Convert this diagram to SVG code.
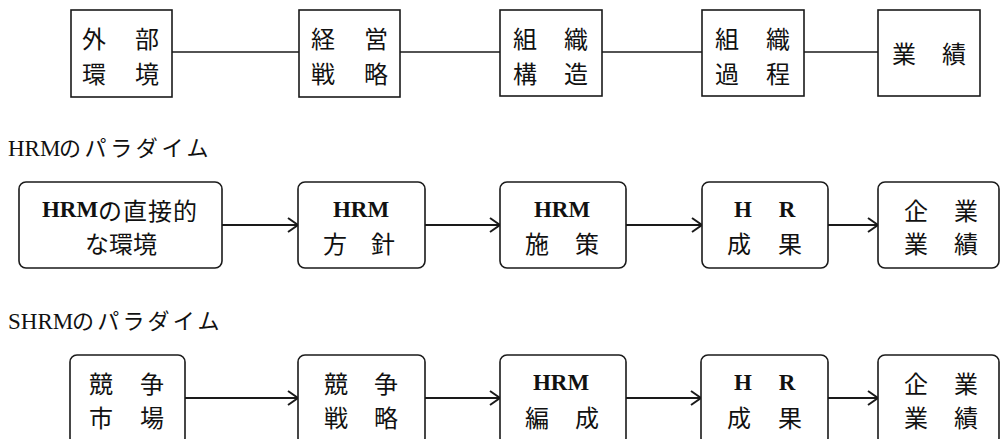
<svg xmlns="http://www.w3.org/2000/svg" width="1001" height="439" viewBox="0 0 1001 439">
<style>
.box{fill:#fff;stroke:#1a1a1a;stroke-width:1.6}
.cn{stroke:#1a1a1a;stroke-width:1.6;fill:none}
.ar{stroke:#1a1a1a;stroke-width:2;fill:none}
.t{font-family:"Noto Sans CJK JP","Liberation Serif",sans-serif;font-size:24px;fill:#111;text-anchor:middle;dominant-baseline:central}
.l{font-family:"Liberation Serif",serif;font-weight:bold;font-size:23px}
.ti{font-family:"Liberation Serif","Noto Sans CJK JP",serif;font-size:23px;fill:#111}
.kj{font-family:"Noto Sans CJK JP",sans-serif;font-size:22px}
</style>
<defs>
<marker id="ah" markerUnits="userSpaceOnUse" markerWidth="14" markerHeight="18" refX="11" refY="8" orient="auto" viewBox="0 0 14 18">
<path d="M1,1 L11,8 L1,15" fill="none" stroke="#1a1a1a" stroke-width="2"/>
</marker>
</defs>
<rect width="1001" height="439" fill="#fff"/>

<g id="connectors">
<line class="cn" x1="172" y1="52" x2="299" y2="52"/>
<line class="cn" x1="400" y1="52" x2="500" y2="52"/>
<line class="cn" x1="602" y1="52" x2="702" y2="52"/>
<line class="cn" x1="804" y1="52" x2="878" y2="52"/>
<line class="ar" x1="222" y1="225" x2="298" y2="225" marker-end="url(#ah)"/>
<line class="ar" x1="425" y1="225" x2="500" y2="225" marker-end="url(#ah)"/>
<line class="ar" x1="626" y1="225" x2="702" y2="225" marker-end="url(#ah)"/>
<line class="ar" x1="828" y1="225" x2="878" y2="225" marker-end="url(#ah)"/>
<line class="ar" x1="185" y1="398" x2="298" y2="398" marker-end="url(#ah)"/>
<line class="ar" x1="425" y1="398" x2="500" y2="398" marker-end="url(#ah)"/>
<line class="ar" x1="626" y1="398" x2="701" y2="398" marker-end="url(#ah)"/>
<line class="ar" x1="828" y1="398" x2="878" y2="398" marker-end="url(#ah)"/>
</g>

<!-- Row 1 -->
<g id="n1">
<rect class="box" x="71" y="10" width="101" height="87"/>
<text class="t" y="37"><tspan x="94">外</tspan><tspan x="147">部</tspan></text>
<text class="t" y="72"><tspan x="94">環</tspan><tspan x="147">境</tspan></text>
</g>
<g id="n2">
<rect class="box" x="299" y="10" width="101" height="87"/>
<text class="t" y="37"><tspan x="323">経</tspan><tspan x="376">営</tspan></text>
<text class="t" y="72"><tspan x="323">戦</tspan><tspan x="376">略</tspan></text>
</g>
<g id="n3">
<rect class="box" x="500" y="10" width="102" height="86"/>
<text class="t" y="37"><tspan x="525">組</tspan><tspan x="576">織</tspan></text>
<text class="t" y="72"><tspan x="525">構</tspan><tspan x="576">造</tspan></text>
</g>
<g id="n4">
<rect class="box" x="702" y="10" width="102" height="86"/>
<text class="t" y="37"><tspan x="727">組</tspan><tspan x="778">織</tspan></text>
<text class="t" y="72"><tspan x="727">過</tspan><tspan x="778">程</tspan></text>
</g>
<g id="n5">
<rect class="box" x="878" y="10" width="102" height="86"/>
<text class="t" y="52"><tspan x="904">業</tspan><tspan x="954">績</tspan></text>
</g>

<!-- Title 1 -->
<text id="title1" class="ti" x="8" y="156">HRM<tspan class="kj" x="59" letter-spacing="3.6">のパラダイム</tspan></text>

<!-- Row 2 -->
<g id="h1">
<rect class="box" x="19" y="182" width="203" height="86" rx="7"/>
<text class="t" x="120" y="209"><tspan class="l">HRM</tspan><tspan letter-spacing="1">の直接的</tspan></text>
<text class="t" x="121" y="242">な環境</text>
</g>
<g id="h2">
<rect class="box" x="298" y="182" width="127" height="86" rx="7"/>
<text class="t l" x="361" y="209">HRM</text>
<text class="t" y="242"><tspan x="335">方</tspan><tspan x="383">針</tspan></text>
</g>
<g id="h3">
<rect class="box" x="500" y="182" width="126" height="86" rx="7"/>
<text class="t l" x="562" y="209">HRM</text>
<text class="t" y="242"><tspan x="537">施</tspan><tspan x="587">策</tspan></text>
</g>
<g id="h4">
<rect class="box" x="702" y="182" width="126" height="86" rx="7"/>
<text class="t l" y="209"><tspan x="743">H</tspan><tspan x="787">R</tspan></text>
<text class="t" y="242"><tspan x="739">成</tspan><tspan x="790">果</tspan></text>
</g>
<g id="h5">
<rect class="box" x="878" y="182" width="121" height="86" rx="7"/>
<text class="t" y="209"><tspan x="916">企</tspan><tspan x="966">業</tspan></text>
<text class="t" y="242"><tspan x="916">業</tspan><tspan x="966">績</tspan></text>
</g>

<!-- Title 2 -->
<text id="title2" class="ti" x="8" y="329">SHRM<tspan class="kj" x="72" letter-spacing="3.2">のパラダイム</tspan></text>

<!-- Row 3 -->
<g id="s1">
<rect class="box" x="70" y="355" width="115" height="90" rx="7"/>
<text class="t" y="382"><tspan x="101">競</tspan><tspan x="152">争</tspan></text>
<text class="t" y="416"><tspan x="101">市</tspan><tspan x="152">場</tspan></text>
</g>
<g id="s2">
<rect class="box" x="298" y="355" width="127" height="90" rx="7"/>
<text class="t" y="382"><tspan x="336">競</tspan><tspan x="386">争</tspan></text>
<text class="t" y="416"><tspan x="336">戦</tspan><tspan x="386">略</tspan></text>
</g>
<g id="s3">
<rect class="box" x="500" y="355" width="126" height="90" rx="7"/>
<text class="t l" x="561" y="382">HRM</text>
<text class="t" y="416"><tspan x="537">編</tspan><tspan x="587">成</tspan></text>
</g>
<g id="s4">
<rect class="box" x="701" y="355" width="127" height="90" rx="7"/>
<text class="t l" y="382"><tspan x="743">H</tspan><tspan x="787">R</tspan></text>
<text class="t" y="416"><tspan x="739">成</tspan><tspan x="790">果</tspan></text>
</g>
<g id="s5">
<rect class="box" x="878" y="355" width="121" height="90" rx="7"/>
<text class="t" y="382"><tspan x="916">企</tspan><tspan x="966">業</tspan></text>
<text class="t" y="416"><tspan x="916">業</tspan><tspan x="966">績</tspan></text>
</g>
</svg>
